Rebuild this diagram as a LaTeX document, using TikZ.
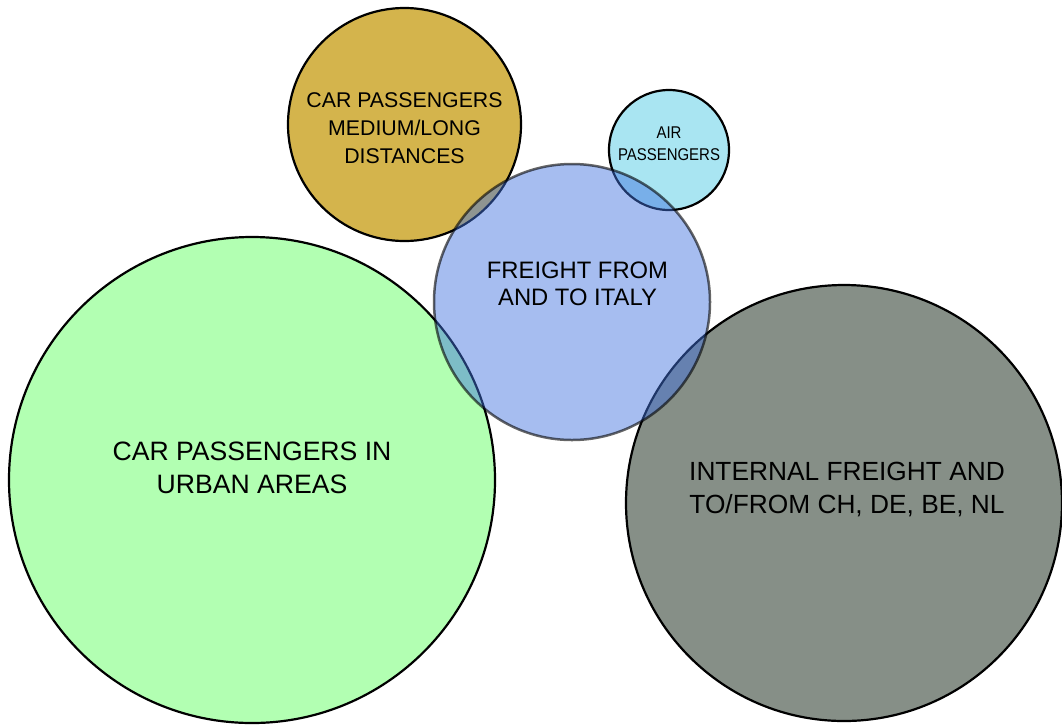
\documentclass[tikz,border=0pt]{standalone}
\usepackage{fontspec}
\setmainfont{Liberation Sans}
\newfontfamily\narrowsans[FakeStretch=0.88]{Liberation Sans}

\definecolor{urbangreen}{RGB}{178,255,178}
\definecolor{longgold}{RGB}{212,180,76}
\definecolor{airblue}{RGB}{169,229,242}
\definecolor{italyblue}{RGB}{66,115,223}
\definecolor{freightgray}{RGB}{134,143,135}

\tikzstyle{bubble}=[circle, draw, line width=2.2pt, inner sep=0pt]
\tikzstyle{bubbletext}=[align=center, inner sep=0pt]

\begin{document}
\begin{tikzpicture}[x=1pt, y=-1pt]
	\useasboundingbox (0,0) rectangle (1062,724);
	% circles, back to front
	\foreach \pos/\r/\col/\name in {{(252,480)/243/urbangreen/urban}, {(404.5,124.5)/116.5/longgold/longdist},
				{(844,503)/218/freightgray/internal}, {(669,150)/60/airblue/air}}
		\node[bubble, fill=\col, minimum size=2*\r] (\name) at \pos {};
	\node[bubble, fill=italyblue, fill opacity=0.47, draw opacity=0.6, line width=2.5pt, minimum size=276] (italy) at (572,302) {};
	% texts
	\node[bubbletext, font=\fontsize{26.6}{33}\selectfont] (urbantext) at ([yshift=12pt]urban.center) {CAR PASSENGERS IN\\URBAN AREAS};
	\node[bubbletext, font=\fontsize{21.3}{28}\selectfont] (longtext) at ([yshift=-3.5pt]longdist.center) {CAR PASSENGERS\\MEDIUM/LONG\\DISTANCES};
	\node[bubbletext, font=\fontsize{26.3}{33}\selectfont] (internaltext) at ([xshift=3pt, yshift=13.5pt]internal.center) {INTERNAL FREIGHT AND\\TO/FROM CH, DE, BE, NL};
	\node[bubbletext, font=\narrowsans\fontsize{17}{22}\selectfont] (airtext) at ([yshift=6pt]air.center) {AIR\\PASSENGERS};
	\node[bubbletext, font=\fontsize{23.8}{27}\selectfont] (italytext) at ([xshift=5.5pt, yshift=18.5pt]italy.center) {FREIGHT FROM\\AND TO ITALY};
\end{tikzpicture}
\end{document}
